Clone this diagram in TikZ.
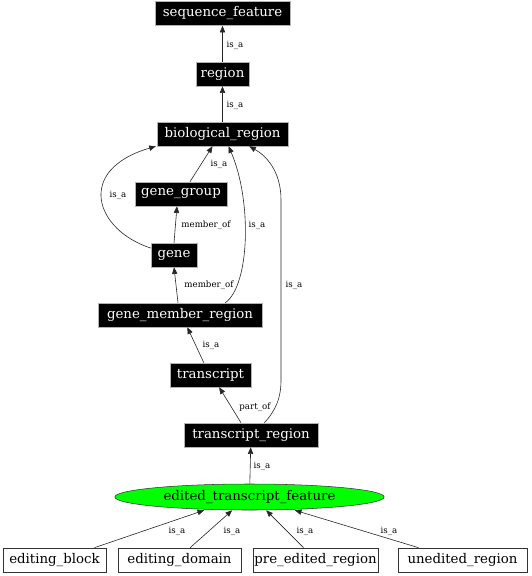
\documentclass[tikz,border=0pt]{standalone}
\usepackage{fontspec}
\setmainfont{DejaVu Serif}
\usetikzlibrary{arrows.meta,shapes.geometric}
\tikzset{
  blk/.style={fill=black,draw=gray!60,line width=0.4pt,text=white,inner sep=0pt,minimum height=18pt,font=\fontsize{10}{12}\selectfont},
  wht/.style={fill=white,draw=black!80,line width=0.5pt,text=black,inner sep=0pt,minimum height=18pt,font=\fontsize{10}{12}\selectfont},
  edg/.style={draw=black!85,line width=0.45pt,-{Triangle[length=5pt,width=4pt]}},
  lbl/.style={font=\fontsize{6.5}{8}\selectfont,inner sep=0pt}
}
\begin{document}
\begin{tikzpicture}[x=0.75pt,y=-0.75pt]
\useasboundingbox (0,0) rectangle (532,576);
% nodes
\node[blk,minimum width=101.25pt] (sf) at (222.5,13.5) {sequence\_feature};
\node[blk,minimum width=39.75pt] (rg) at (222.5,74) {region};
\node[blk,minimum width=98.25pt] (br) at (222.5,134) {biological\_region};
\node[blk,minimum width=69pt] (gg) at (181,194) {gene\_group};
\node[blk,minimum width=34.5pt] (ge) at (174,255) {gene};
\node[blk,minimum width=123pt] (gmr) at (180,315) {gene\_member\_region};
\node[blk,minimum width=60.75pt] (tr) at (210.5,375) {transcript};
\node[blk,minimum width=100.5pt] (trr) at (251,435) {transcript\_region};
\node[draw=black!80,fill=green,ellipse,inner sep=0pt,minimum width=202pt,minimum height=19.5pt,font=\fontsize{10}{12}\selectfont] (etf) at (249.5,497) {edited\_transcript\_feature};
\node[wht,minimum width=77.25pt] (eb) at (54.5,560) {editing\_block};
\node[wht,minimum width=92.25pt] (ed) at (179.5,560) {editing\_domain};
\node[wht,minimum width=93.75pt] (per) at (315.5,560) {pre\_edited\_region};
\node[wht,minimum width=96.75pt] (ur) at (462.5,560) {unedited\_region};
% edges
\draw[edg] (rg) -- (sf);
\node[lbl] at (235,45) {is\_a};
\draw[edg] (br) -- (rg);
\node[lbl] at (235,105) {is\_a};
\draw[edg] (gg.north) ++(9,0) coordinate (a1) (a1) -- ([xshift=-7.5pt]br.south);
\node[lbl] at (219,164) {is\_a};
\draw[edg] ([yshift=-4pt]ge.north west) .. controls (95,230) and (75,170) .. ([xshift=-50pt]br.south);
\node[lbl] at (118,195) {is\_a};
\draw[edg] (ge.north) -- ([xshift=-3pt]gg.south);
\node[lbl] at (206,225) {member\_of};
\draw[edg] ([xshift=-1.5pt]gmr.north) -- (ge.south);
\node[lbl] at (209,285) {member\_of};
\draw[edg] ([xshift=34pt]gmr.north) .. controls (250,285) and (252,200) .. ([xshift=4.5pt]br.south);
\node[lbl] at (257,225) {is\_a};
\draw[edg] ([xshift=-5pt]tr.north) -- ([xshift=5.5pt]gmr.south);
\node[lbl] at (211,345) {is\_a};
\draw[edg] ([xshift=-7.5pt]trr.north) -- ([xshift=6.5pt]tr.south);
\node[lbl] at (255,407) {part\_of};
\draw[edg] ([xshift=10pt]trr.north) .. controls (276,410) and (281,398) .. (281,380) -- (281,200) .. controls (281,170) and (265,155) .. ([xshift=20pt]br.south);
\node[lbl] at (294,285) {is\_a};
\draw[edg] (etf) -- (trr);
\node[lbl] at (262,466) {is\_a};
\draw[edg] ([xshift=30pt]eb.north) -- ([xshift=-34pt]etf.south);
\node[lbl] at (177,531) {is\_a};
\draw[edg] ([xshift=8pt]ed.north) -- ([xshift=-13pt]etf.south);
\node[lbl] at (232,531) {is\_a};
\draw[edg] ([xshift=-9pt]per.north) -- ([xshift=12.5pt]etf.south);
\node[lbl] at (305,531) {is\_a};
\draw[edg] ([xshift=-33pt]ur.north) -- ([xshift=34pt]etf.south);
\node[lbl] at (389,531) {is\_a};
\end{tikzpicture}
\end{document}
